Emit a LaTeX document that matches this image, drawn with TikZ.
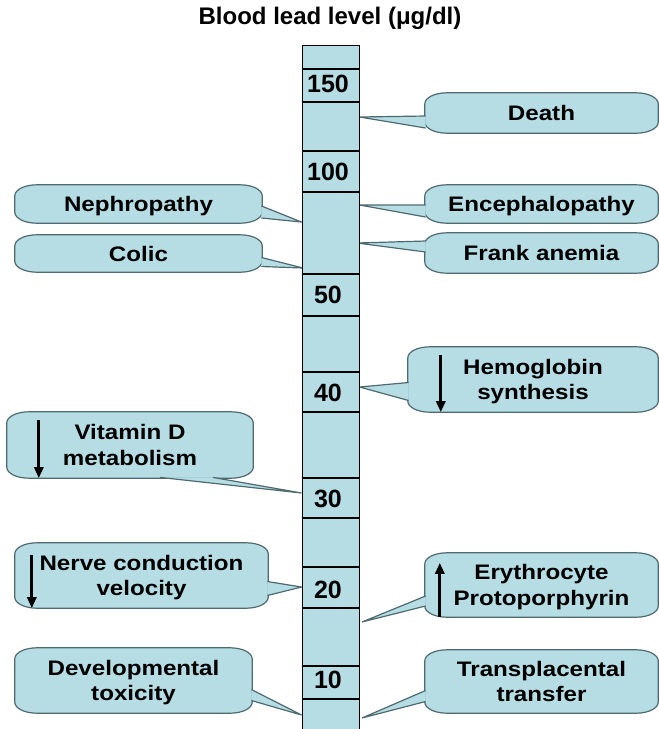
\documentclass[tikz,border=0pt]{standalone}
\usepackage{fontspec}
\setmainfont{Liberation Sans}
\newfontfamily\boxfont[FakeStretch=1.15]{Liberation Sans}
\usetikzlibrary{arrows.meta,calc,backgrounds}
\definecolor{leadblue}{RGB}{183,221,228}
\definecolor{calloutline}{RGB}{78,106,112}

\begin{document}
\begin{tikzpicture}[
    x=1pt, y=-1pt,
    callout/.style={rectangle, align=center, inner sep=0pt, text depth=0pt, font=\boxfont\bfseries\fontsize{21}{25.5}\selectfont},
    bubble/.style={draw=calloutline, line width=1.2pt, fill=leadblue},
    wedge/.style={draw=calloutline, fill=leadblue, line width=1.2pt},
    level/.style={inner sep=0pt, font=\bfseries\fontsize{25}{25}\selectfont},
    band/.style={line width=2pt},
    trend/.style={line width=2.8pt, -{Triangle[width=9pt,length=11pt]}}
]
    \useasboundingbox (0,0) rectangle (659,729);

    % Title
    \node[font=\bfseries\fontsize{24}{24}\selectfont] (title) at (330,18) {Blood lead level (μg/dl)};

    % Scale column
    \node[draw, line width=1pt, fill=leadblue, minimum width=57pt, minimum height=700pt, anchor=north, inner sep=0pt] (scale) at (330.5,45) {};
    \foreach \y in {69,102,151,192,274,316,372,412,478,518,567,608,666,699}
        \draw[band] (scale.west |- 0,\y) -- (scale.east |- 0,\y);
    \foreach \v/\y in {150/84,100/172,50/295,40/393,30/499,20/590,10/680}
        \node[level] (l\v) at (328,\y) {\v};

    % Points on the scale
    \coordinate (pdeath) at (scale.east |- 0,117);
    \coordinate (pencep) at (scale.east |- 0,205);
    \coordinate (pfrank) at (357,243);
    \coordinate (phemo) at (scale.east |- 0,387);
    \coordinate (peryth) at (362,622);
    \coordinate (ptrans) at (362,718);
    \coordinate (pnephro) at (scale.west |- 0,222);
    \coordinate (pcolic) at (303,268);
    \coordinate (pvitd) at (scale.west |- 0,493);
    \coordinate (pnerve) at (scale.west |- 0,587);
    \coordinate (pdevel) at (scale.west |- 0,715);

    % Right callouts
    \node[callout, minimum width=233pt, minimum height=40pt] (death) at (541.5,113) {Death};
    \node[callout, minimum width=233pt, minimum height=38pt] (encep) at (541.5,204) {Encephalopathy};
    \node[callout, minimum width=233pt, minimum height=40pt] (frank) at (541.5,253) {Frank anemia};
    \node[callout, minimum width=250pt, minimum height=65pt] (hemo) at (533,379.5) {Hemoglobin\\synthesis};
    \node[callout, minimum width=233pt, minimum height=64pt] (eryth) at (541.5,585) {Erythrocyte\\Protoporphyrin};
    \node[callout, minimum width=233pt, minimum height=63pt] (trans) at (541.5,681.5) {Transplacental\\transfer};

    % Left callouts
    \node[callout, minimum width=247pt, minimum height=38pt] (nephro) at (138.5,204) {Nephropathy};
    \node[callout, minimum width=247pt, minimum height=37pt] (colic) at (138.5,253.5) {Colic};
    \node[callout, minimum width=246pt, minimum height=66pt] (vitd) at (130,445) {Vitamin D\\metabolism};
    \node[callout, minimum width=253pt, minimum height=65pt] (nerve) at (141.5,575.5) {Nerve conduction\\velocity};
    \node[callout, minimum width=237pt, minimum height=65pt] (devel) at (133.5,680.5) {Developmental\\toxicity};

    \begin{pgfonlayer}{background}
    % Bubbles with oval corners
    \foreach \n in {death,encep,frank,hemo,eryth,trans,nephro,colic,vitd,nerve,devel}
        \draw[bubble] ($(\n.north west)+(22,0)$) -- ($(\n.north east)+(-22,0)$)
            arc[start angle=90, end angle=0, x radius=22pt, y radius=11pt]
            -- ($(\n.south east)+(0,-11)$)
            arc[start angle=0, end angle=-90, x radius=22pt, y radius=11pt]
            -- ($(\n.south west)+(22,0)$)
            arc[start angle=-90, end angle=-180, x radius=22pt, y radius=11pt]
            -- ($(\n.north west)+(0,11)$)
            arc[start angle=180, end angle=90, x radius=22pt, y radius=11pt] -- cycle;

    % Pointers
    \draw[wedge] ($(death.west)+(0.8,3)$) -- (pdeath) -- ($(death.west)+(0.8,15)$);
    \draw[wedge] ($(encep.west)+(0.8,1)$) -- (pencep) -- ($(encep.west)+(0.8,13)$);
    \draw[wedge] ($(frank.west)+(0.8,-12)$) -- (pfrank) -- ($(frank.west)+(0.8,-1)$);
    \draw[wedge] ($(hemo.west)+(0.8,3)$) -- (phemo) -- ($(hemo.west)+(0.8,21)$);
    \draw[wedge] ($(eryth.west)+(0.8,11)$) -- (peryth) -- ($(eryth.west)+(0.8,21)$);
    \draw[wedge] ($(trans.west)+(0.8,9)$) -- (ptrans) -- ($(trans.west)+(0.8,20)$);
    \draw[wedge] ($(nephro.east)+(-0.8,2)$) -- (pnephro) -- ($(nephro.east)+(-0.8,14)$);
    \draw[wedge] ($(colic.east)+(-0.8,4)$) -- (pcolic) -- ($(colic.east)+(-0.8,13)$);
    \draw[wedge] ($(vitd.south)+(83,-0.8)$) -- (pvitd) -- ($(vitd.south)+(30,-0.8)$);
    \draw[wedge] ($(nerve.east)+(-0.8,6)$) -- (pnerve) -- ($(nerve.east)+(-0.8,20)$);
    \draw[wedge] ($(devel.east)+(-0.8,9)$) -- (pdevel) -- ($(devel.east)+(-0.8,20)$);
    \end{pgfonlayer}

    % Trend arrows
    \draw[trend] ($(hemo.north west)+(33,8)$) -- ($(hemo.south west)+(33,0)$);
    \draw[trend] ($(vitd.north west)+(32,8)$) -- ($(vitd.south west)+(32,0)$);
    \draw[trend] ($(nerve.north west)+(17,12)$) -- ($(nerve.south west)+(17,0)$);
    \draw[trend] ($(eryth.south west)+(15,0)$) -- ($(eryth.north west)+(15,10)$);

\end{tikzpicture}
\end{document}
